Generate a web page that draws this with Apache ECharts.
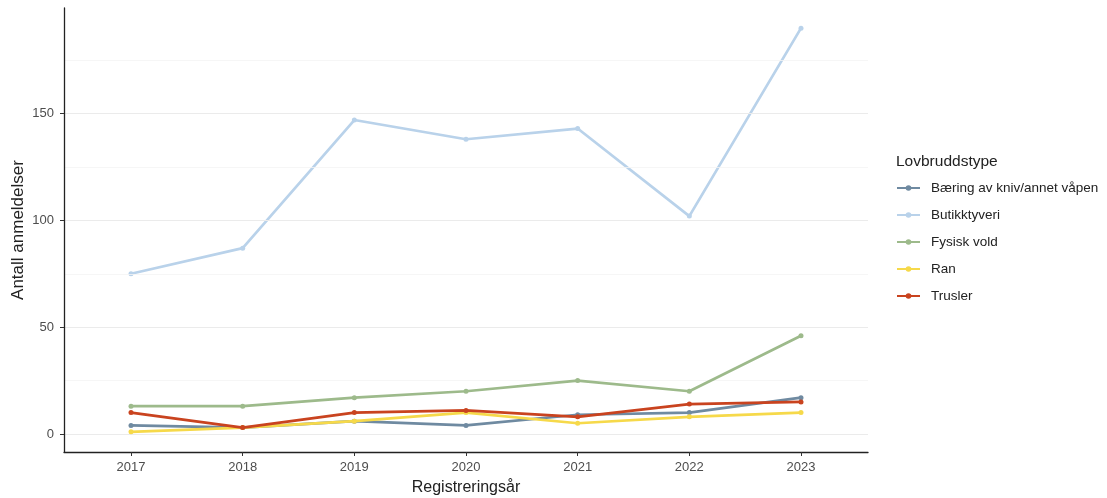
<!DOCTYPE html>
<html><head><meta charset="utf-8">
<script src="https://cdn.jsdelivr.net/npm/echarts@6/dist/echarts.min.js"></script>
<style>html,body{margin:0;padding:0;background:#fff}#c{width:1107px;height:498px}</style>
</head><body><div id="c"></div>
<script>
const years = [2017, 2018, 2019, 2020, 2021, 2022, 2023];
const seriesNames = ['Bæring av kniv/annet våpen', 'Butikktyveri', 'Fysisk vold', 'Ran', 'Trusler'];
const baering = [4, 3, 6, 4, 9, 10, 17];
const butikk = [75, 87, 147, 138, 143, 102, 190];
const fysisk = [13, 13, 17, 20, 25, 20, 46];
const ran = [1, 3, 6, 10, 5, 8, 10];
const trusler = [10, 3, 10, 11, 8, 14, 15];
const yTicks = [0, 50, 100, 150];
const yMinor = [25, 75, 125, 175];
const colors = ['#6f8aa1', '#b9d2ea', '#9dba8b', '#f6d94a', '#c9431f'];
const values = [baering, butikk, fysisk, ran, trusler];

const font = 'Liberation Sans, Arial, sans-serif';
const chart = echarts.init(document.getElementById('c'));
const series = values.map((v, i) => ({
  name: seriesNames[i],
  type: 'line',
  data: years.map((y, j) => [y, v[j]]),
  symbol: 'circle',
  symbolSize: 5,
  lineStyle: { width: 2.7, color: colors[i] },
  itemStyle: { color: colors[i] },
  z: 3 + i
}));
series.unshift({
  name: '_grid',
  type: 'line',
  data: [],
  silent: true,
  z: 1,
  markLine: {
    silent: true, symbol: 'none', label: { show: false },
    animation: false,
    data: yTicks.map(t => ({ yAxis: t, lineStyle: { color: '#ebebeb', width: 1, type: 'solid' } }))
      .concat(yMinor.map(t => ({ yAxis: t, lineStyle: { color: '#f4f4f4', width: 0.8, type: 'solid' } })))
  }
});

chart.setOption({
  animation: false,
  backgroundColor: '#fff',
  grid: { left: 64, right: 239, top: 8, bottom: 46, containLabel: false, outerBoundsMode: 'none' },
  title: {
    text: 'Lovbruddstype', left: 896, top: 154, padding: 0,
    textStyle: { fontFamily: font, fontSize: 15.5, fontWeight: 'normal', color: '#222' }
  },
  legend: {
    data: seriesNames, orient: 'vertical', left: 896, top: 181, padding: 0,
    itemWidth: 23, itemHeight: 7, itemGap: 13,
    textStyle: { fontFamily: font, fontSize: 13.5, color: '#222', lineHeight: 14, padding: [0, 0, 0, 6] }
  },
  xAxis: {
    type: 'value', min: 2016.4, max: 2023.6, z: 10,
    name: 'Registreringsår', nameLocation: 'middle', nameGap: 28, nameMoveOverlap: false,
    nameTextStyle: { fontFamily: font, fontSize: 16, color: '#222' },
    axisLine: { show: true, onZero: false, lineStyle: { color: '#222', width: 1.3 } },
    axisTick: { show: true, length: 4, lineStyle: { color: '#333' }, customValues: years },
    axisLabel: { fontFamily: font, fontSize: 13, color: '#4d4d4d', margin: 9, customValues: years, formatter: v => String(v) },
    splitLine: { show: false }
  },
  yAxis: {
    type: 'value', min: -8.45, max: 199.45, z: 10,
    name: 'Antall anmeldelser', nameLocation: 'middle', nameGap: 37, nameMoveOverlap: false,
    nameTextStyle: { fontFamily: font, fontSize: 17, color: '#222' },
    axisLine: { show: true, onZero: false, lineStyle: { color: '#222', width: 1.3 } },
    axisTick: { show: true, length: 4, lineStyle: { color: '#333' }, customValues: yTicks },
    axisLabel: { fontFamily: font, fontSize: 13, color: '#4d4d4d', margin: 10, customValues: yTicks },
    splitLine: { show: false }
  },
  series: series
});
</script></body></html>
